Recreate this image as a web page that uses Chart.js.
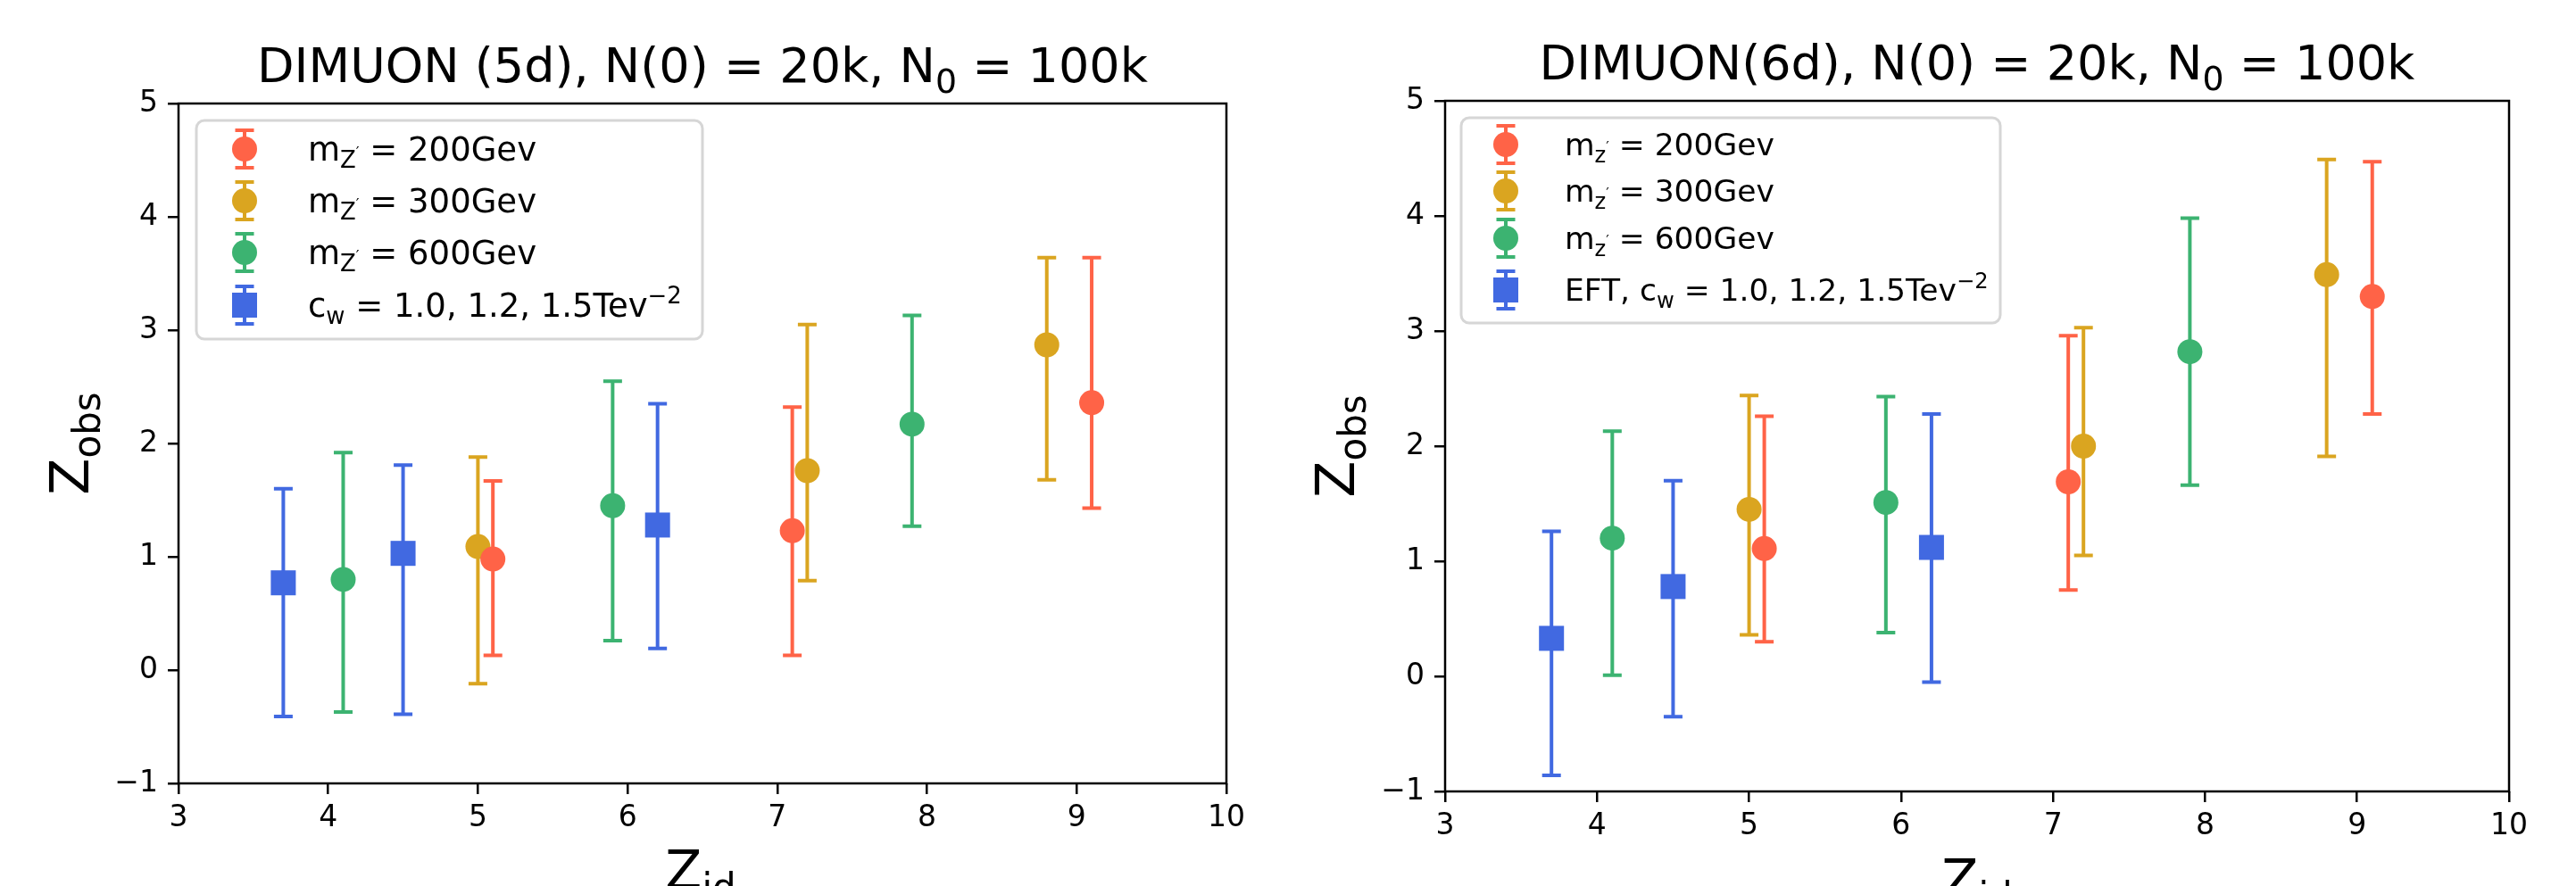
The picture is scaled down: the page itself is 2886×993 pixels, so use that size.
<!DOCTYPE html>
<html>
<head>
<meta charset="utf-8">
<script src="https://cdn.jsdelivr.net/npm/chart.js@4"></script>
<style>
html, body { margin: 0; padding: 0; background: #fff; }
#wrap { position: relative; width: 2886px; height: 993px; overflow: hidden; }
canvas { position: absolute; top: 0; }
</style>
</head>
<body>
<div id="wrap">
  <canvas id="left" width="1443" height="993" style="left:0"></canvas>
  <canvas id="right" width="1443" height="993" style="left:1443px"></canvas>
</div>
<script>
// Z_id positions of each series (same in both panels)
const zid200 = [5.1, 7.1, 9.1];
const zid300 = [5.0, 7.2, 8.8];
const zid600 = [4.1, 5.9, 7.9];
const zidEft = [3.7, 4.5, 6.2];

// DIMUON (5d): Z_obs and error bar ends
const obs5d200 = [0.98, 1.23, 2.36];
const lo5d200  = [0.13, 0.13, 1.43];
const hi5d200  = [1.67, 2.32, 3.64];
const obs5d300 = [1.09, 1.76, 2.87];
const lo5d300  = [-0.12, 0.79, 1.68];
const hi5d300  = [1.88, 3.05, 3.64];
const obs5d600 = [0.80, 1.45, 2.17];
const lo5d600  = [-0.37, 0.26, 1.27];
const hi5d600  = [1.92, 2.55, 3.13];
const obs5dEft = [0.77, 1.03, 1.28];
const lo5dEft  = [-0.41, -0.39, 0.19];
const hi5dEft  = [1.60, 1.81, 2.35];

// DIMUON (6d)
const obs6d200 = [1.11, 1.69, 3.30];
const lo6d200  = [0.30, 0.75, 2.28];
const hi6d200  = [2.26, 2.96, 4.47];
const obs6d300 = [1.45, 2.00, 3.49];
const lo6d300  = [0.36, 1.05, 1.91];
const hi6d300  = [2.44, 3.03, 4.49];
const obs6d600 = [1.20, 1.51, 2.82];
const lo6d600  = [0.01, 0.38, 1.66];
const hi6d600  = [2.13, 2.43, 3.98];
const obs6dEft = [0.33, 0.78, 1.12];
const lo6dEft  = [-0.86, -0.35, -0.05];
const hi6dEft  = [1.26, 1.70, 2.28];

const xTicks = [3, 4, 5, 6, 7, 8, 9, 10];
const yTicks = [-1, 0, 1, 2, 3, 4, 5];

const colors = { m200: '#FF6347', m300: '#DAA520', m600: '#3CB371', eft: '#4169E1' };
const FAM = '"DejaVu Sans", sans-serif';

// rich text: n = normal, b = subscript, p = superscript, bp = small mark on a subscript
function drawRich(ctx, segs, x, y, size, align) {
    const st = { n: [1, 0], b: [0.7, 0.22], p: [0.7, -0.42], bp: [0.45, -0.12] };
    const parts = segs.map(([t, k]) => {
        const [s, dy] = st[k];
        ctx.font = `${size * s}px ${FAM}`;
        return { t, f: ctx.font, dy: dy * size, w: ctx.measureText(t).width };
    });
    const total = parts.reduce((a, p) => a + p.w, 0);
    let cx = align === 'center' ? x - total / 2 : x;
    ctx.textAlign = 'left';
    ctx.textBaseline = 'alphabetic';
    parts.forEach(p => {
        ctx.font = p.f;
        ctx.fillText(p.t, cx, y + p.dy);
        cx += p.w;
    });
}

function series(xs, obs, lo, hi) {
    return xs.map((x, i) => ({ x: x, y: obs[i], lo: lo[i], hi: hi[i] }));
}

// error bars drawn under each dataset's markers
const errorBars = {
    id: 'errorBars',
    beforeDatasetDraw(chart, args) {
        const ds = chart.data.datasets[args.index];
        const ys = chart.scales.y;
        const ctx = chart.ctx;
        ctx.save();
        ctx.strokeStyle = ds.backgroundColor;
        ctx.lineWidth = 4;
        args.meta.data.forEach((pt, i) => {
            const r = ds.data[i];
            const a = ys.getPixelForValue(r.lo);
            const b = ys.getPixelForValue(r.hi);
            ctx.beginPath();
            ctx.moveTo(pt.x, a); ctx.lineTo(pt.x, b);
            ctx.moveTo(pt.x - 10.5, a); ctx.lineTo(pt.x + 10.5, a);
            ctx.moveTo(pt.x - 10.5, b); ctx.lineTo(pt.x + 10.5, b);
            ctx.stroke();
        });
        ctx.restore();
    }
};

function decor(cfg) {
    return {
        id: 'decor',
        afterDraw(chart) {
            const ctx = chart.ctx;
            const a = chart.chartArea;
            ctx.save();
            // frame
            ctx.strokeStyle = '#000';
            ctx.lineWidth = 2.5;
            ctx.strokeRect(a.left, a.top, a.right - a.left, a.bottom - a.top);
            ctx.fillStyle = '#000';
            // title
            drawRich(ctx, cfg.title, (a.left + a.right) / 2, cfg.titleY, 54, 'center');
            // x label
            drawRich(ctx, [['Z', 'n'], ['id', 'b']], cfg.xLabelX, cfg.xLabelY, 60, 'center');
            // y label
            ctx.save();
            ctx.translate(cfg.yLabelX, (a.top + a.bottom) / 2);
            ctx.rotate(-Math.PI / 2);
            drawRich(ctx, [['Z', 'n'], ['obs', 'b']], 0, 0, 60, 'center');
            ctx.restore();
            // legend
            const L = cfg.legend;
            ctx.beginPath();
            ctx.roundRect(L.x0, L.y0, L.x1 - L.x0, L.y1 - L.y0, 9);
            ctx.fillStyle = 'rgba(255,255,255,0.85)';
            ctx.fill();
            ctx.strokeStyle = '#d6d6d6';
            ctx.lineWidth = 3;
            ctx.stroke();
            chart.data.datasets.forEach((ds, i) => {
                const cy = L.rows[i];
                const mx = L.mx;
                ctx.strokeStyle = ds.backgroundColor;
                ctx.lineWidth = 4;
                ctx.beginPath();
                ctx.moveTo(mx, cy - 21); ctx.lineTo(mx, cy + 21);
                ctx.moveTo(mx - 10.5, cy - 21); ctx.lineTo(mx + 10.5, cy - 21);
                ctx.moveTo(mx - 10.5, cy + 21); ctx.lineTo(mx + 10.5, cy + 21);
                ctx.stroke();
                ctx.fillStyle = ds.backgroundColor;
                ctx.beginPath();
                if (ds.pointStyle === 'rect') ctx.rect(mx - 14, cy - 14, 28, 28);
                else ctx.arc(mx, cy, 14, 0, Math.PI * 2);
                ctx.fill();
                ctx.fillStyle = '#000';
                drawRich(ctx, cfg.labels[i], L.tx, cy + L.size * 0.36, L.size, 'left');
            });
            ctx.restore();
        }
    };
}

function makeChart(id, sets, cfg) {
    const ds = (label, data, color, style, r) => ({
        label: label, data: data, backgroundColor: color, borderColor: color,
        pointStyle: style, pointRadius: r, pointHoverRadius: r, pointBorderWidth: 0, showLine: false
    });
    return new Chart(document.getElementById(id), {
        type: 'scatter',
        data: {
            datasets: [
                ds('200', sets[0], colors.m200, 'circle', 14),
                ds('300', sets[1], colors.m300, 'circle', 14),
                ds('600', sets[2], colors.m600, 'circle', 14),
                ds('eft', sets[3], colors.eft, 'rect', 19.8)
            ]
        },
        options: {
            responsive: false,
            animation: false,
            devicePixelRatio: 1,
            layout: { padding: cfg.padding },
            plugins: { legend: { display: false }, tooltip: { enabled: false } },
            scales: {
                x: {
                    type: 'linear', min: 3, max: 10,
                    afterBuildTicks: s => { s.ticks = xTicks.map(v => ({ value: v })); },
                    afterFit: s => { s.height = cfg.xH; },
                    ticks: { color: '#000', font: { family: FAM, size: 33 }, padding: 8 },
                    grid: { drawOnChartArea: false, drawTicks: true, tickLength: 12, color: '#000', lineWidth: 2.5 },
                    border: { display: false }
                },
                y: {
                    type: 'linear', min: -1, max: 5,
                    afterBuildTicks: s => { s.ticks = yTicks.map(v => ({ value: v })); },
                    afterFit: s => { s.width = cfg.yW; },
                    ticks: {
                        color: '#000', font: { family: FAM, size: 33 }, padding: 11,
                        callback: v => String(v).replace('-', '\u2212')
                    },
                    grid: { drawOnChartArea: false, drawTicks: true, tickLength: 12, color: '#000', lineWidth: 2.5 },
                    border: { display: false }
                }
            }
        },
        plugins: [errorBars, decor(cfg)]
    });
}

const mz = (z, v) => [['m', 'n'], [z, 'b'], ['\u2032', 'bp'], [' = ' + v + 'Gev', 'n']];

makeChart('left', [
    series(zid200, obs5d200, lo5d200, hi5d200),
    series(zid300, obs5d300, lo5d300, hi5d300),
    series(zid600, obs5d600, lo5d600, hi5d600),
    series(zidEft, obs5dEft, lo5dEft, hi5dEft)
], {
    padding: { left: 0, right: 69, top: 116, bottom: 0 },
    xH: 115, yW: 200,
    title: [['DIMUON (5d), N(0) = 20k, N', 'n'], ['0', 'b'], [' = 100k', 'n']],
    titleY: 92,
    xLabelX: 785, xLabelY: 996,
    yLabelX: 99,
    legend: { x0: 220, y0: 135, x1: 787, y1: 380, mx: 274, tx: 345, size: 37, rows: [167, 225, 283, 342] },
    labels: [mz('Z', 200), mz('Z', 300), mz('Z', 600),
        [['c', 'n'], ['w', 'b'], [' = 1.0, 1.2, 1.5Tev', 'n'], ['\u22122', 'p']]]
});

makeChart('right', [
    series(zid200, obs6d200, lo6d200, hi6d200),
    series(zid300, obs6d300, lo6d300, hi6d300),
    series(zid600, obs6d600, lo6d600, hi6d600),
    series(zidEft, obs6dEft, lo6dEft, hi6dEft)
], {
    padding: { left: 0, right: 75, top: 113, bottom: 0 },
    xH: 106, yW: 176,
    title: [['DIMUON(6d), N(0) = 20k, N', 'n'], ['0', 'b'], [' = 100k', 'n']],
    titleY: 89,
    xLabelX: 772, xLabelY: 1006,
    yLabelX: 74,
    legend: { x0: 194, y0: 132, x1: 798, y1: 362, mx: 244, tx: 310, size: 34.5, rows: [162, 214, 267, 325] },
    labels: [mz('z', 200), mz('z', 300), mz('z', 600),
        [['EFT, c', 'n'], ['w', 'b'], [' = 1.0, 1.2, 1.5Tev', 'n'], ['\u22122', 'p']]]
});
</script>
</body>
</html>
